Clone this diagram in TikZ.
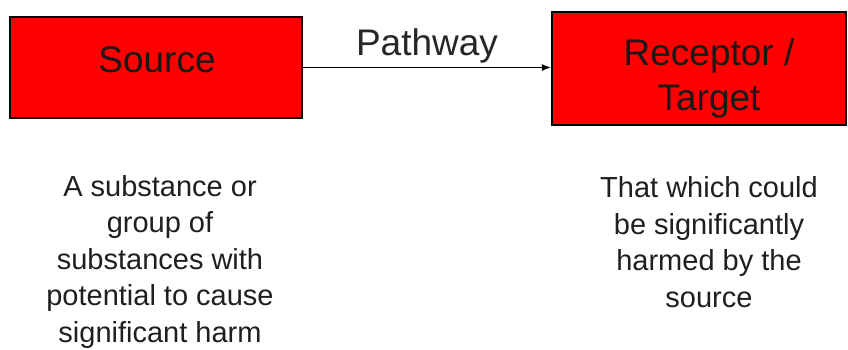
\documentclass[tikz,border=0pt]{standalone}
\usepackage{fontspec}
\setmainfont{Liberation Sans}
\usetikzlibrary{arrows.meta}
\begin{document}
\begin{tikzpicture}[x=1pt,y=-1pt,
  redbox/.style={draw=black, fill=red, line width=2.2pt, inner sep=0pt},
  boxtext/.style={font=\fontsize{37}{45}\selectfont, align=center, inner sep=0pt, text=black!90},
  desc/.style={font=\fontsize{29}{36.5}\selectfont, align=center, inner sep=0pt, text=black!88},
  conn/.style={line width=1.3pt, -{Latex[length=9pt,width=7pt]}}
]
\useasboundingbox (0,0) rectangle (848,349);
\node[redbox, minimum width=292pt, minimum height=101pt] (src) at (156,67.5) {};
\node[redbox, minimum width=294pt, minimum height=113pt] (rec) at (699,68.5) {};
\node[boxtext, anchor=base] (srct) at (157,72) {Source};
\node[boxtext, anchor=base] (rect) at (709,110) {Receptor /\\Target};
\draw[conn] (src.east) -- (src.east -| rec.west);
\node[font=\fontsize{37}{45}\selectfont, inner sep=0pt, anchor=base, text=black!85] (path) at (427,55) {Pathway};
\node[desc, anchor=base] (srcd) at (160,342) {A substance or\\group of\\substances with\\potential to cause\\significant harm};
\node[desc, anchor=base] (recd) at (709,307) {That which could\\be significantly\\harmed by the\\source};
\end{tikzpicture}
\end{document}
